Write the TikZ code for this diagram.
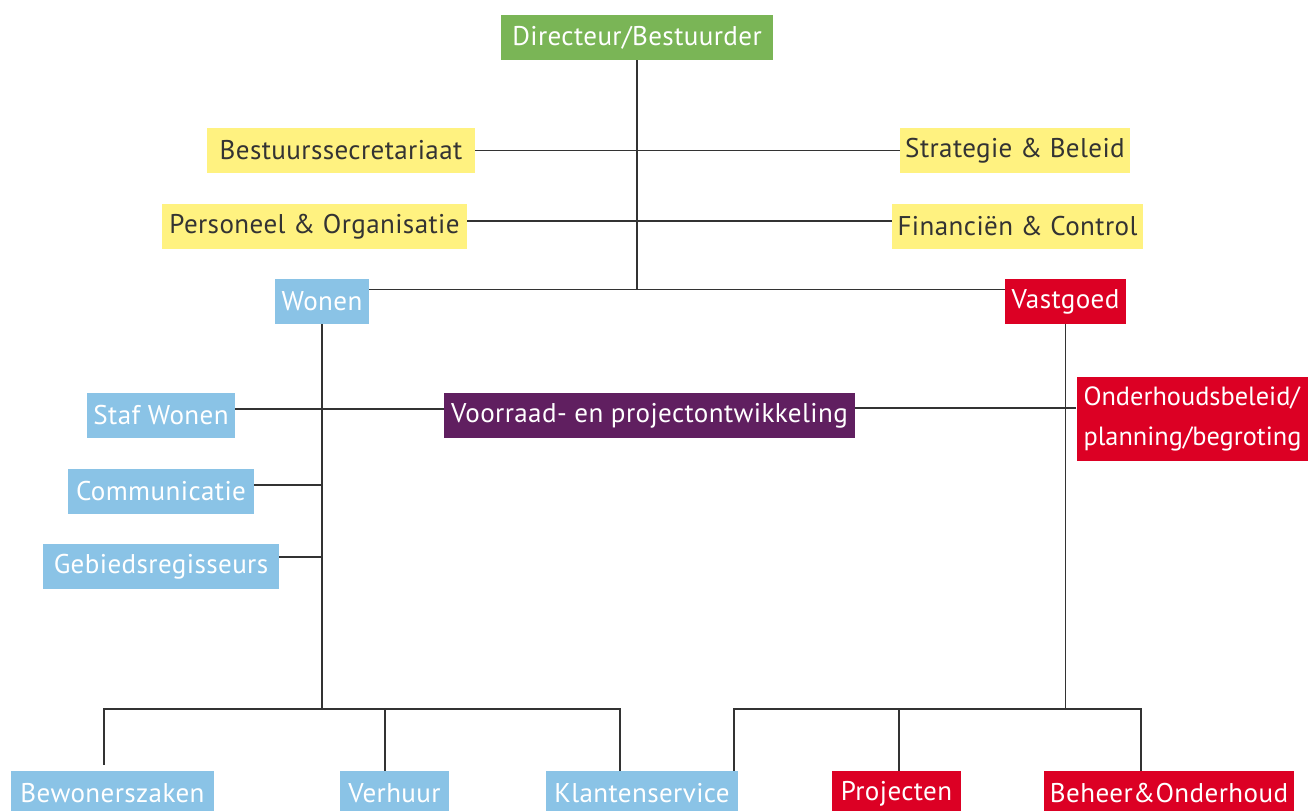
\documentclass[tikz,border=0pt]{standalone}
\usepackage{fontspec}
\setmainfont{PT Sans}[LetterSpace=1.5]
\usepackage{tikz}
\usetikzlibrary{positioning,calc}
\usepackage{xcolor}
\definecolor{dirgreen}{RGB}{122,181,86}
\definecolor{stafyellow}{RGB}{255,242,128}
\definecolor{wonenblue}{RGB}{138,195,230}
\definecolor{vastred}{RGB}{220,0,36}
\definecolor{projpurple}{RGB}{96,31,96}
\definecolor{linegray}{RGB}{51,51,51}

\tikzset{
  unit/.style={rectangle,minimum height=0.9cm,inner xsep=0.08cm,inner ysep=0pt,
    font=\fontsize{15.4}{22.7}\selectfont,text=white},
  dirbox/.style={unit,fill=dirgreen},
  stafbox/.style={unit,fill=stafyellow,text=linegray},
  wonenbox/.style={unit,fill=wonenblue},
  vastbox/.style={unit,fill=vastred},
  projbox/.style={unit,fill=projpurple},
  link/.style={draw=linegray,line width=0.9pt}
}

\begin{document}
\begin{tikzpicture}[x=0.02cm,y=-0.02cm]
            \useasboundingbox (0,0) rectangle (1308,811);

            % top
            \node[dirbox,minimum width=5.44cm] (dir) at (637,37.5) {Directeur/Bestuurder};
            \node[stafbox,minimum width=5.36cm] (secr) at (341,150.5) {Bestuurssecretariaat};
            \node[stafbox,minimum width=4.6cm] (strat) at (1015,150.5) {Strategie \& Beleid};
            \node[stafbox,minimum width=6.1cm] (pers) at (314.5,226.5) {Personeel \& Organisatie};
            \node[stafbox,minimum width=5.02cm] (fin) at (1017.5,226.5) {Financiën \& Control};
            \node[wonenbox,minimum width=1.88cm] (wonen) at (322,301.5) {Wonen};
            \node[vastbox,minimum width=2.42cm] (vast) at (1065.5,301.5) {Vastgoed};

            % middle
            \node[wonenbox,minimum width=2.96cm] (staf) at (161,415.5) {Staf Wonen};
            \node[wonenbox,minimum width=3.72cm] (comm) at (161,491) {Communicatie};
            \node[wonenbox,minimum width=4.72cm] (gebied) at (161,566.5) {Gebiedsregisseurs};
            \node[projbox,minimum width=8.22cm] (voor) at (649.5,415.5) {Voorraad- en projectontwikkeling};
            \node[vastbox,minimum height=1.68cm,inner xsep=0.14cm,text width=4.5cm,align=left,
                font=\fontsize{15}{22.7}\selectfont] (onder) at (1196,419)
                {\addfontfeature{LetterSpace=0}Onderhoudsbeleid/\\planning/begroting};

            % bottom
            \node[wonenbox,minimum width=4.06cm] (bewon) at (112.5,793.5) {Bewonerszaken};
            \node[wonenbox,minimum width=2.18cm] (verh) at (394.5,793.5) {Verhuur};
            \node[wonenbox,minimum width=3.84cm] (klant) at (642,793.5) {Klantenservice};
            \node[vastbox,minimum width=2.58cm] (proj) at (896.5,793.5) {Projecten};
            \node[vastbox,minimum width=5cm] (beheer) at (1169,793.5) {Beheer\&Onderhoud};

            % connectors top
            \coordinate (wv) at ([yshift=0.24cm]wonen.east);
            \draw[link] (dir.south) -- (dir.south |- wv);
            \draw[link] (secr.east) -- (secr.east -| strat.west);
            \draw[link] ([yshift=0.11cm]pers.east) -- ([yshift=0.11cm]pers.east -| fin.west);
            \draw[link] (wv) -- (wv -| vast.west);

            % connectors middle
            \draw[link] ([yshift=0.13cm]staf.east) -- ([yshift=0.13cm]voor.west);
            \draw[link] ([yshift=0.15cm]voor.east) -- ([yshift=0.15cm]voor.east -| onder.west);
            \draw[link] ([yshift=0.12cm]comm.east) -- ([yshift=0.12cm]comm.east -| wonen.south);
            \draw[link] ([yshift=0.19cm]gebied.east) -- ([yshift=0.19cm]gebied.east -| wonen.south);

            % bus lines bottom
            \coordinate (wbus) at (wonen.south |- 0,709);
            \coordinate (vbus) at (vast.south |- 0,709);
            \coordinate (tapbewon) at ([xshift=-0.17cm,yshift=0.12cm]bewon.north);
            \coordinate (tapverh) at ([xshift=-0.19cm]verh.north);
            \coordinate (tapklantl) at ([xshift=-0.44cm]klant.north);
            \coordinate (tapklantr) at ([xshift=1.84cm]klant.north);
            \coordinate (tapproj) at ([xshift=0.05cm]proj.north);
            \coordinate (tapbeheer) at ([xshift=-0.56cm]beheer.north);

            \draw[link] (wonen.south) -- (wbus);
            \draw[link] (tapbewon) -- (tapbewon |- wbus) -- (tapklantl |- wbus) -- (tapklantl);
            \draw[link] (tapverh) -- (tapverh |- wbus);
            \draw[link] (vast.south) -- (vbus);
            \draw[link] (tapklantr) -- (tapklantr |- vbus) -- (tapbeheer |- vbus) -- (tapbeheer);
            \draw[link] (tapproj) -- (tapproj |- vbus);
        \end{tikzpicture}
\end{document}
